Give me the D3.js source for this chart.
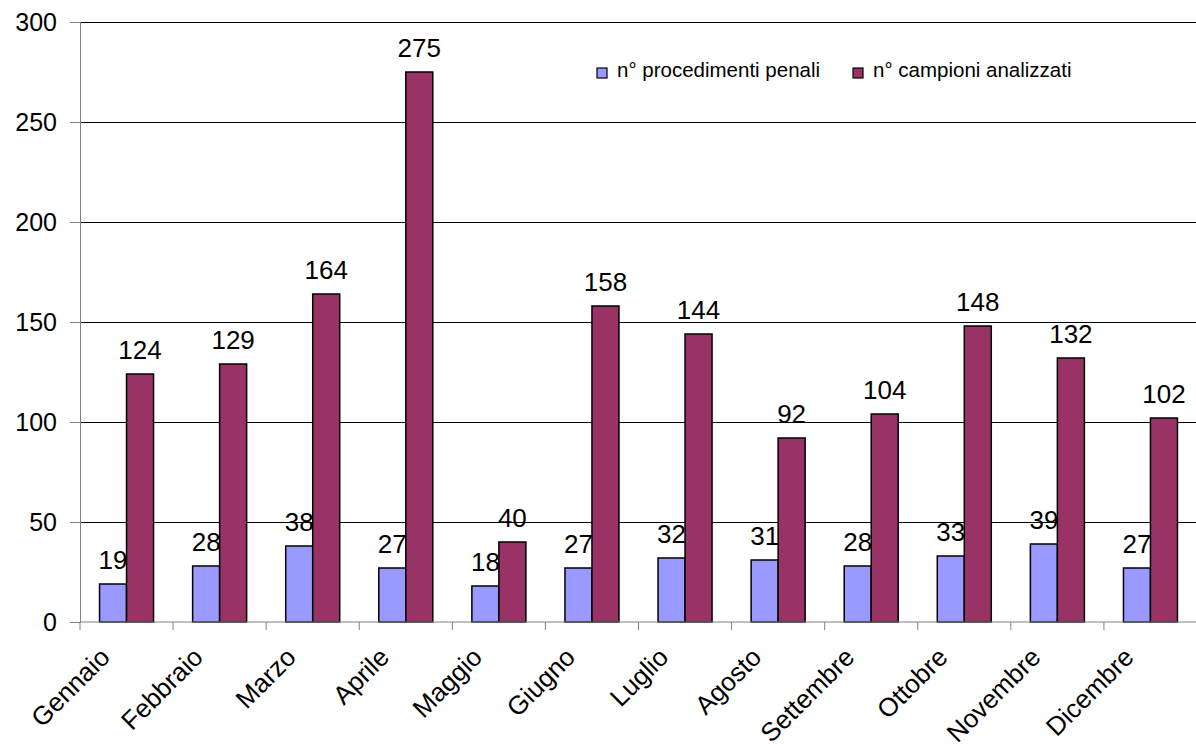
<!DOCTYPE html>
<html>
<head>
<meta charset="utf-8">
<script src="https://cdn.jsdelivr.net/npm/d3@7"></script>
<style>
  html, body { margin: 0; padding: 0; background: #fff; }
  svg { display: block; font-family: Arial, "Liberation Sans", sans-serif; }
</style>
</head>
<body>
<div id="root"><svg></svg></div>
<script>
const months = ['Gennaio', 'Febbraio', 'Marzo', 'Aprile', 'Maggio', 'Giugno',
    'Luglio', 'Agosto', 'Settembre', 'Ottobre', 'Novembre', 'Dicembre'];
const procedimenti = [19, 28, 38, 27, 18, 27, 32, 31, 28, 33, 39, 27];
const campioni = [124, 129, 164, 275, 40, 158, 144, 92, 104, 148, 132, 102];
const yTicks = [0, 50, 100, 150, 200, 250, 300];
const seriesNames = ['n° procedimenti penali', 'n° campioni analizzati'];

const width = 1196, height = 744;
const plotL = 80, plotR = 1197, plotT = 22, plotB = 622;
const barW = 27;
const colors = ['#9999ff', '#993366'];

const svg = d3.select('#root').select('svg')
    .attr('width', width)
    .attr('height', height);

const x = d3.scaleBand().domain(months).range([plotL, plotR]);
const y = d3.scaleLinear().domain([0, 300]).range([plotB, plotT]);

// gridlines
svg.append('g')
    .selectAll('line')
    .data(yTicks.slice(1))
    .enter().append('line')
    .attr('x1', plotL).attr('x2', plotR)
    .attr('y1', d => y(d)).attr('y2', d => y(d))
    .attr('stroke', '#000')
    .attr('stroke-width', 1)
    .attr('shape-rendering', 'crispEdges');

// y axis
const yAxis = svg.append('g')
    .attr('transform', `translate(${plotL},0)`)
    .call(d3.axisLeft(y).tickValues(yTicks).tickSize(10).tickPadding(13));
yAxis.select('.domain').attr('stroke', '#808080');
yAxis.selectAll('.tick line').attr('stroke', '#808080');
yAxis.selectAll('.tick text')
    .attr('font-size', '25px')
    .attr('font-family', 'Arial, "Liberation Sans", sans-serif')
    .attr('fill', '#000');

// bars
const data = months.map((m, i) => ({ month: m, vals: [procedimenti[i], campioni[i]] }));
const groups = svg.append('g').selectAll('g')
    .data(data)
    .enter().append('g')
    .attr('transform', d => `translate(${x(d.month) + x.bandwidth() / 2 - barW},0)`);

groups.selectAll('rect')
    .data(d => d.vals)
    .enter().append('rect')
    .attr('x', (d, i) => i * barW)
    .attr('y', d => y(d))
    .attr('width', barW)
    .attr('height', d => plotB - y(d))
    .attr('fill', (d, i) => colors[i])
    .attr('stroke', '#000')
    .attr('stroke-width', 1.5);

groups.selectAll('text')
    .data(d => d.vals)
    .enter().append('text')
    .attr('x', (d, i) => i * barW + barW / 2)
    .attr('y', d => y(d) - 15)
    .attr('text-anchor', 'middle')
    .attr('font-size', '26px')
    .attr('fill', '#000')
    .text(d => d);

// x axis
const xAxis = svg.append('g')
    .attr('transform', `translate(0,${plotB})`);
xAxis.append('line')
    .attr('x1', plotL).attr('x2', plotR)
    .attr('stroke', '#808080');
xAxis.selectAll('line.tk')
    .data(months)
    .enter().append('line')
    .attr('class', 'tk')
    .attr('x1', d => x(d)).attr('x2', d => x(d))
    .attr('y1', 0).attr('y2', 8)
    .attr('stroke', '#808080');
xAxis.selectAll('text')
    .data(months)
    .enter().append('text')
    .attr('transform', d => `translate(${x(d) + x.bandwidth() / 2 - 28},${24}) rotate(-45)`)
    .attr('text-anchor', 'end')
    .attr('dy', '0.7em')
    .attr('font-size', '26px')
    .attr('fill', '#000')
    .text(d => d);

// legend
const legend = svg.append('g');
const legendX = [597, 853];
seriesNames.forEach((name, i) => {
    legend.append('rect')
        .attr('x', legendX[i]).attr('y', 68)
        .attr('width', 10).attr('height', 10)
        .attr('fill', colors[i])
        .attr('stroke', '#000')
        .attr('stroke-width', 1.2);
    legend.append('text')
        .attr('x', legendX[i] + 20).attr('y', 77)
        .attr('font-size', '20.5px')
        .attr('fill', '#000')
        .text(name);
});
</script>
</body>
</html>
